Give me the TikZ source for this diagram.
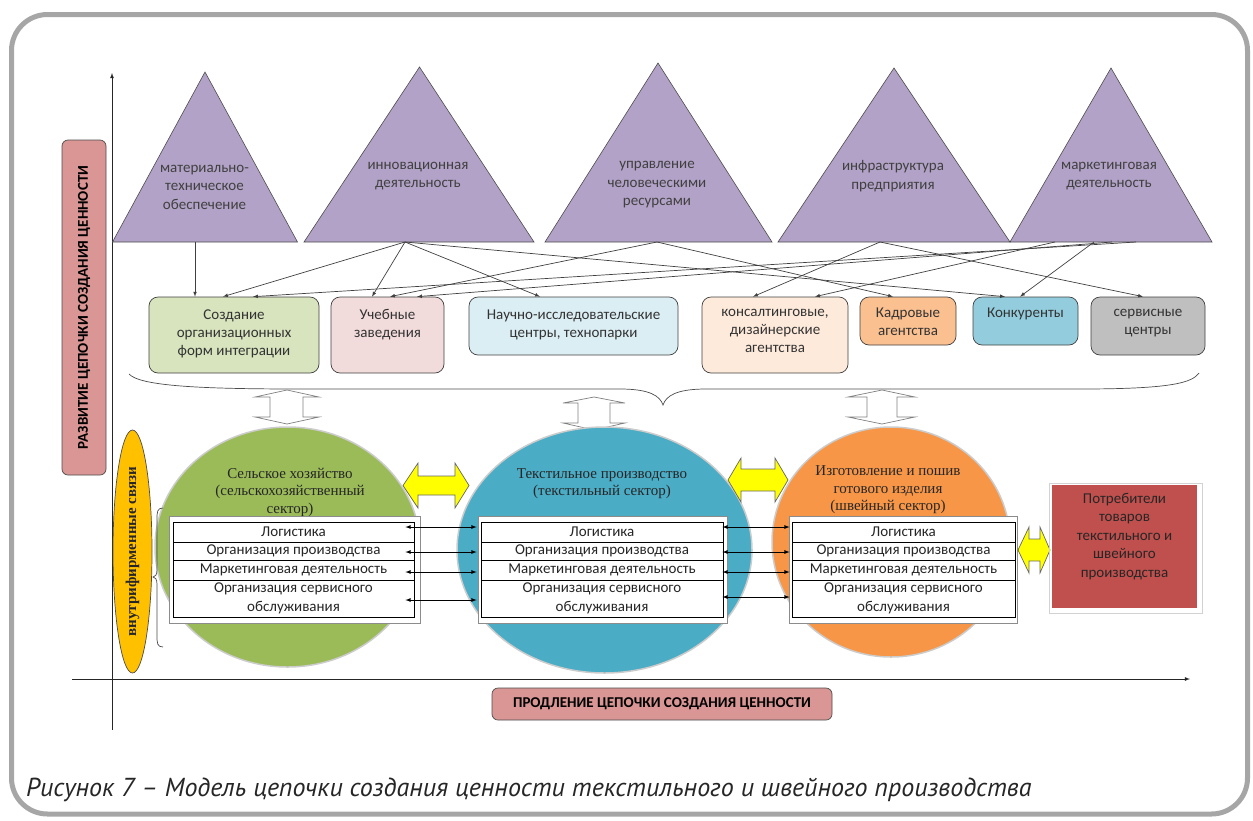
\documentclass[tikz,border=0pt]{standalone}
\usepackage{fontspec}
\setmainfont{Carlito}
\newfontfamily\serifru{Liberation Serif}
\newfontfamily\capfont{PT Sans}
\usetikzlibrary{shapes.geometric}
\definecolor{framegray}{RGB}{166,166,166}
\definecolor{trifill}{RGB}{178,162,199}
\definecolor{labred}{RGB}{217,150,148}
\definecolor{agrigreen}{RGB}{155,187,89}
\definecolor{texblue}{RGB}{75,172,198}
\definecolor{sewor}{RGB}{247,150,70}
\definecolor{consred}{RGB}{192,80,77}
\definecolor{yell}{RGB}{255,255,0}
\definecolor{ellor}{RGB}{255,192,0}
\definecolor{integrfill}{RGB}{215,228,189}
\definecolor{uchebfill}{RGB}{242,220,219}
\definecolor{nauchfill}{RGB}{219,238,244}
\definecolor{consultfill}{RGB}{253,234,218}
\definecolor{kadrfill}{RGB}{250,192,144}
\definecolor{konkfill}{RGB}{147,205,221}
\definecolor{servfill}{RGB}{191,191,191}
\begin{document}
\begin{tikzpicture}[x=1pt,y=-1pt,
  tri/.style={fill=trifill,draw=black!70,line width=0.6pt},
  tritxt/.style={align=center,text=black!75,inner sep=0pt,font=\fontsize{15}{18.5}\selectfont},
  bx/.style={draw=black!75,line width=0.7pt,rounded corners=9pt,inner sep=0pt},
  bxtxt/.style={align=center,anchor=north,inner sep=0pt,text=black!80,font=\fontsize{15}{18}\selectfont},
  link/.style={-latex,draw=black!75,line width=0.7pt},
  axisline/.style={-latex,draw=black!85,line width=0.8pt},
  hollow/.style={draw=black!50,fill=white,line width=0.7pt},
  yarrow/.style={draw=black!60,fill=yell,line width=0.7pt},
  sector/.style={ellipse,draw=black!20,line width=1.5pt,inner sep=0pt},
  sectxt/.style={align=center,anchor=north,inner sep=0pt,text=black!85,font=\serifru\fontsize{15}{17.5}\selectfont},
  tablerow/.style={draw=black,fill=white,line width=0.8pt,inner sep=0pt,align=center,text=black!85,font=\fontsize{15}{18.5}\selectfont},
  tableframe/.style={draw=black!45,fill=white,line width=0.6pt},
  dbl/.style={latex-latex,line width=0.8pt},
  brc/.style={draw=black!70,line width=0.7pt},
  axlab/.style={draw=black!70,fill=labred,rounded corners=6pt,line width=0.7pt,inner sep=0pt,font=\bfseries\fontsize{15}{17}\selectfont}]
\useasboundingbox (0,0) rectangle (1253,820);
\draw[line width=5pt,framegray,rounded corners=36pt] (11.5,14.5) rectangle (1247.5,814);
\coordinate (yfoot) at (112,730);
\coordinate (ytop) at (112,73);
\coordinate (xfoot) at (72,679);
\coordinate (xtip) at (1190,679);
\draw[axisline] (yfoot) -- (ytop);
\draw[axisline] (xfoot) -- (xtip);
\node[axlab,rotate=90,minimum width=335,minimum height=44] (vlab) at (84,307.5) {РАЗВИТИЕ ЦЕПОЧКИ СОЗДАНИЯ ЦЕННОСТИ};
\node[axlab,minimum width=340,minimum height=32] (hlab) at (662,704) {ПРОДЛЕНИЕ ЦЕПОЧКИ СОЗДАНИЯ ЦЕННОСТИ};
\draw[tri] (112.5,242) -- (205,72) -- (297.5,242) -- cycle;
\draw[tri] (304,242) -- (419.5,67) -- (534,242) -- cycle;
\draw[tri] (545,242) -- (658,63) -- (772,242) -- cycle;
\draw[tri] (778,242) -- (894,68) -- (1010,242) -- cycle;
\draw[tri] (1010,242) -- (1111,68) -- (1212,242) -- cycle;
\node[tritxt] (mto) at (204.5,187) {материально-\\техническое\\обеспечение};
\node[tritxt] (innov) at (418,176) {инновационная\\деятельность};
\node[tritxt] (hr) at (657,185) {управление\\человеческими\\ресурсами};
\node[tritxt] (infra) at (893,176) {инфраструктура\\предприятия};
\node[tritxt] (mkt) at (1109,176) {маркетинговая\\деятельность};
\coordinate (mtoB) at (195,242);
\coordinate (innovB) at (405,242);
\coordinate (hrB) at (657,242);
\coordinate (infraB) at (880,242);
\coordinate (mktB1) at (1055,242);
\coordinate (mktB2) at (1094,242);
\coordinate (mktB3) at (1112,242);
\coordinate (mktB4) at (1136,242);
\node[bx,fill=integrfill,minimum width=170,minimum height=76] (integr) at (234,335) {};
\node[bx,fill=uchebfill,minimum width=113,minimum height=76] (ucheb) at (387.5,335) {};
\node[bx,fill=nauchfill,minimum width=209,minimum height=58] (nauch) at (573.5,326) {};
\node[bx,fill=consultfill,minimum width=146,minimum height=76] (consult) at (775,335) {};
\node[bx,fill=kadrfill,minimum width=96,minimum height=48] (kadr) at (908,321) {};
\node[bx,fill=konkfill,minimum width=105,minimum height=48] (konk) at (1025.5,321) {};
\node[bx,fill=servfill,minimum width=114,minimum height=58] (serv) at (1148,326) {};
\node[bxtxt] (integrT) at (234,309.5) {Создание\\организационных\\форм интеграции};
\node[bxtxt] (uchebT) at (387.5,309.5) {Учебные\\заведения};
\node[bxtxt] (nauchT) at (573.5,309.5) {Научно-исследовательские\\центры, технопарки};
\node[bxtxt] (consultT) at (775,309.5) {консалтинговые,\\дизайнерские\\агентства};
\node[bxtxt] (kadrT) at (908,307.5) {Кадровые\\агентства};
\node[bxtxt] (konkT) at (1025.5,307.5) {Конкуренты};
\node[bxtxt] (servT) at (1148,309.5) {сервисные\\центры};
\draw[link] (mtoB) -- ([xshift=-39pt]integr.north);
\draw[link] (innovB) -- ([xshift=-11pt]integr.north);
\draw[link] (innovB) -- ([xshift=-15.5pt]ucheb.north);
\draw[link] (innovB) -- ([xshift=-33.5pt]nauch.north);
\draw[link] (innovB) -- ([xshift=-20.5pt]konk.north);
\draw[link] (hrB) -- ([xshift=2.5pt]ucheb.north);
\draw[link] (hrB) -- ([xshift=-15pt]kadr.north);
\draw[link] (infraB) -- ([xshift=-22pt]consult.north);
\draw[link] (infraB) -- ([xshift=-5pt]serv.north);
\draw[link] (mktB1) -- ([xshift=40pt]consult.north);
\draw[link] (mktB2) -- ([xshift=-5.5pt]konk.north);
\draw[link] (mktB3) -- ([xshift=29.5pt]ucheb.north);
\draw[link] (mktB4) -- ([xshift=19pt]integr.north);
\draw[brc] (129,374) .. controls (140,386) and (200,389) .. (300,389) -- (620,389) .. controls (650,389) and (660,396) .. (663,405) .. controls (666,396) and (676,389) .. (706,389) -- (1080,389) .. controls (1170,389) and (1192,383) .. (1199,373);
\draw[hollow] (287,390) -- (319,397) -- (303,397) -- (303,417) -- (319,417) -- (287,424) -- (255,417) -- (270,417) -- (270,397) -- (255,397) -- cycle;
\draw[hollow] (594,397) -- (625,403) -- (610,403) -- (610,423) -- (625,423) -- (594,430) -- (563,423) -- (578,423) -- (578,403) -- (563,403) -- cycle;
\draw[hollow] (882,390) -- (915,397) -- (897,397) -- (897,417) -- (915,417) -- (882,424) -- (848,417) -- (867,417) -- (867,397) -- (848,397) -- cycle;
\node[sector,fill=agrigreen,minimum width=265,minimum height=240] (agri) at (287.5,547) {};
\node[sector,fill=texblue,minimum width=295,minimum height=246] (textile) at (604.5,550) {};
\node[sector,fill=sewor,minimum width=238,minimum height=230] (sewing) at (891,542) {};
\node[sectxt] (agriT) at (290,468) {Сельское хозяйство\\(сельскохозяйственный\\сектор)};
\node[sectxt] (textileT) at (602,468) {Текстильное производство\\(текстильный сектор)};
\node[sectxt] (sewingT) at (888,465.5) {Изготовление и пошив\\готового изделия\\(швейный сектор)};
\node[ellipse,rotate=90,draw=black!70,fill=ellor,line width=0.7pt,minimum width=243,minimum height=39,inner sep=0pt,text=black!85,font=\serifru\bfseries\fontsize{15}{17}\selectfont] (intra) at (132.5,551.5) {внутрифирменные связи};
\draw[brc] (163,508) .. controls (157,508) and (157,512) .. (157,520) -- (157,570) .. controls (157,575) and (155,577) .. (153,577) .. controls (155,577) and (157,579) .. (157,584) -- (157,635) .. controls (157,643) and (157,647) .. (163,647);
\draw[tableframe] (169,516) rectangle (420,623);
\node[tablerow,minimum width=241,minimum height=20] (agri1) at (293.5,532) {Логистика};
\node[tablerow,minimum width=241,minimum height=18] (agri2) at (293.5,551) {Организация производства};
\node[tablerow,minimum width=241,minimum height=20] (agri3) at (293.5,570) {Маркетинговая деятельность};
\node[tablerow,minimum width=241,minimum height=37] (agri4) at (293.5,598.5) {Организация сервисного\\обслуживания};
\draw[tableframe] (478,516) rectangle (727,623);
\node[tablerow,minimum width=242,minimum height=20] (tex1) at (602,532) {Логистика};
\node[tablerow,minimum width=242,minimum height=18] (tex2) at (602,551) {Организация производства};
\node[tablerow,minimum width=242,minimum height=20] (tex3) at (602,570) {Маркетинговая деятельность};
\node[tablerow,minimum width=242,minimum height=37] (tex4) at (602,598.5) {Организация сервисного\\обслуживания};
\draw[tableframe] (789,516) rectangle (1017,623);
\node[tablerow,minimum width=223,minimum height=20] (sew1) at (903.5,532) {Логистика};
\node[tablerow,minimum width=223,minimum height=18] (sew2) at (903.5,551) {Организация производства};
\node[tablerow,minimum width=223,minimum height=20] (sew3) at (903.5,570) {Маркетинговая деятельность};
\node[tablerow,minimum width=223,minimum height=37] (sew4) at (903.5,598.5) {Организация сервисного\\обслуживания};
\draw[dbl] ([xshift=-9pt,yshift=5pt]agri1.east) -- ([xshift=-4pt,yshift=5pt]tex1.west);
\draw[dbl] ([xshift=-9pt,yshift=-1pt]agri2.east) -- ([xshift=-4pt,yshift=-1pt]tex2.west);
\draw[dbl] ([xshift=-9pt,yshift=-2pt]agri3.east) -- ([xshift=-4pt,yshift=-2pt]tex3.west);
\draw[dbl] ([xshift=-9pt,yshift=-1.5pt]agri4.east) -- ([xshift=-4pt,yshift=-1.5pt]tex4.west);
\draw[dbl] ([xshift=-1pt,yshift=5pt]tex1.east) -- ([xshift=-2pt,yshift=5pt]sew1.west);
\draw[dbl] ([xshift=-1pt,yshift=-1pt]tex2.east) -- ([xshift=-2pt,yshift=-1pt]sew2.west);
\draw[dbl] ([xshift=-1pt,yshift=-2pt]tex3.east) -- ([xshift=-2pt,yshift=-2pt]sew3.west);
\draw[dbl] ([xshift=-1pt,yshift=1.5pt]tex4.east) -- ([xshift=-2pt,yshift=1.5pt]sew4.west);
\draw[yarrow] (403,485.5) -- (418,463) -- (418,476) -- (455,476) -- (455,463) -- (469,485.5) -- (455,508) -- (455,495) -- (418,495) -- (418,508) -- cycle;
\draw[yarrow] (728,480) -- (741,458) -- (741,469) -- (775,469) -- (775,458) -- (788,480) -- (775,502) -- (775,491) -- (741,491) -- (741,502) -- cycle;
\draw[yarrow] (1018,550) -- (1029,527) -- (1029,539) -- (1040,539) -- (1040,527) -- (1050,550) -- (1040,573) -- (1040,561) -- (1029,561) -- (1029,573) -- cycle;
\draw[gray!35,line width=1pt] (1049,483) rectangle (1202,613);
\node[fill=consred,minimum width=145,minimum height=123,inner sep=0pt] (cons) at (1124.5,546.5) {};
\node[bxtxt,text=black!85,font=\fontsize{15}{18.5}\selectfont] (consT) at (1124.5,493) {Потребители\\товаров\\текстильного и\\швейного\\производства};
\node[anchor=west,inner sep=0pt,text=black!85,font=\capfont\itshape\fontsize{26}{30}\selectfont] (caption) at (26,790) {Рисунок 7 – Модель цепочки создания ценности текстильного и швейного производства};
\end{tikzpicture}
\end{document}
